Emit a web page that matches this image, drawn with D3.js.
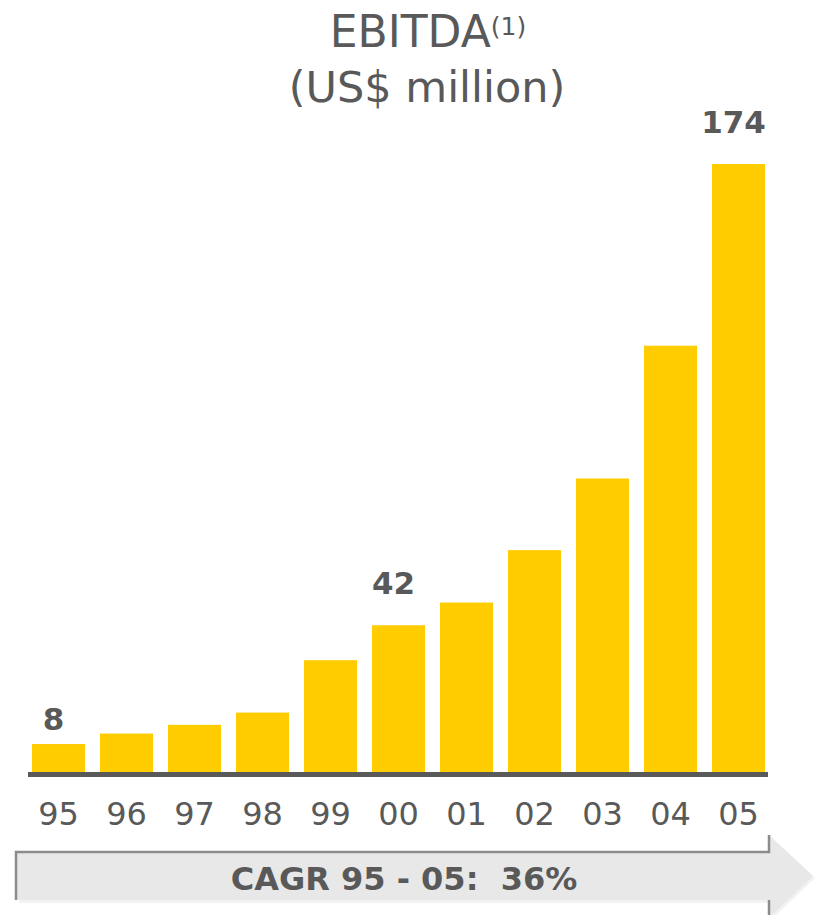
<!DOCTYPE html>
<html>
<head>
<meta charset="utf-8">
<script src="https://cdn.jsdelivr.net/npm/d3@7"></script>
<style>
  body { margin: 0; background: #fff; }
  text { font-family: "DejaVu Sans", Verdana, sans-serif; fill: #595959; }
</style>
</head>
<body>
<svg id="chart" width="815" height="915"></svg>
<script>
// EBITDA bars, values
var years = ['95', '96', '97', '98', '99', '00', '01', '02', '03', '04', '05'];
var ebitda = [8, 11, 13.5, 17, 32, 42, 48.5, 63.5, 84, 122, 174];
var labelled = ['95', '00', '05'];   // only these bars carry a value label
var cagrText = 'CAGR 95 - 05:  36%';

var chart = d3.select('#chart');
var rows = years.map(function(y, i) { return {year: y, value: ebitda[i]}; });

var x = d3.scaleBand().domain(years).range([24.5, 772.5])
	.paddingInner(0.22).paddingOuter(0.11);
var y = d3.scaleLinear().domain([0, 174]).range([772, 164]);

// title
var title = chart.append('text').attr('x', 428).attr('y', 47)
	.attr('text-anchor', 'middle').style('font-size', '44px');
title.append('tspan').text('EBITDA');
title.append('tspan').attr('dy', -12).style('font-size', '25px').text('(1)');
chart.append('text').attr('x', 427).attr('y', 102)
	.attr('text-anchor', 'middle').style('font-size', '43px')
	.text('(US$ million)');

// bars
chart.selectAll('rect.bar').data(rows)
	.enter()
	.append('rect')
	.attr('class', 'bar')
	.attr('x', function(d) { return x(d.year); })
	.attr('y', function(d) { return y(d.value); })
	.attr('width', x.bandwidth())
	.attr('height', function(d) { return y(0) - y(d.value); })
	.attr('fill', '#ffcc00');

// value labels
chart.selectAll('text.val').data(rows.filter(function(d) { return labelled.indexOf(d.year) >= 0; }))
	.enter()
	.append('text')
	.attr('class', 'val')
	.attr('x', function(d) { return x(d.year) + x.bandwidth() / 2 - 5; })
	.attr('y', function(d) { return y(d.value) - (d.value < 10 ? 14 : 31); })
	.attr('text-anchor', 'middle')
	.style('font-size', '31px').style('font-weight', 'bold')
	.text(function(d) { return d.value; });

// baseline + year labels through an axis
var axis = chart.append('g').attr('transform', 'translate(0,' + (y(0) + 2.5) + ')')
	.call(d3.axisBottom(x).tickSize(0).tickPadding(50));
axis.select('.domain').attr('d', 'M28,0H768').attr('stroke', '#595959').attr('stroke-width', 5);
axis.selectAll('.tick text').attr('fill', '#595959')
	.style('font-family', '"DejaVu Sans", Verdana, sans-serif').style('font-size', '32px')
	.attr('dy', '0');

// CAGR arrow
var bx0 = 16, bx1 = 769, by0 = 852, by1 = 900, hy0 = 835, hy1 = 918, tip = 813;
var midY = (by0 + by1) / 2;
chart.append('path')
	.attr('d', 'M' + (bx0 + 3) + ',' + (by0 + 3) + 'H' + (bx1 + 2) + 'V' + (hy0 + 2) +
		'L' + (tip + 2) + ',' + (midY + 2) + 'L' + (bx1 + 2) + ',' + (hy1 + 2) + 'V' + (by1 + 3) + 'H' + (bx0 + 3) + 'Z')
	.attr('fill', '#f2f2f2');
chart.append('path')
	.attr('d', 'M' + bx0 + ',' + by0 + 'H' + bx1 + 'V' + hy0 + 'L' + tip + ',' + midY +
		'L' + bx1 + ',' + hy1 + 'V' + by1 + 'H' + bx0 + 'Z')
	.attr('fill', '#e8e8e8');
chart.append('path')
	.attr('d', 'M' + bx0 + ',' + by1 + 'V' + by0 + 'H' + bx1 + 'V' + hy0)
	.attr('fill', 'none').attr('stroke', '#8c8c8c').attr('stroke-width', 2.5);
chart.append('path')
	.attr('d', 'M' + bx1 + ',' + by1 + 'V' + hy1)
	.attr('fill', 'none').attr('stroke', '#8c8c8c').attr('stroke-width', 2.5);
chart.append('text').attr('x', 404).attr('y', 890)
	.attr('text-anchor', 'middle').style('font-size', '32px').style('font-weight', 'bold')
	.style('white-space', 'pre')
	.text(cagrText);
</script>
</body>
</html>
